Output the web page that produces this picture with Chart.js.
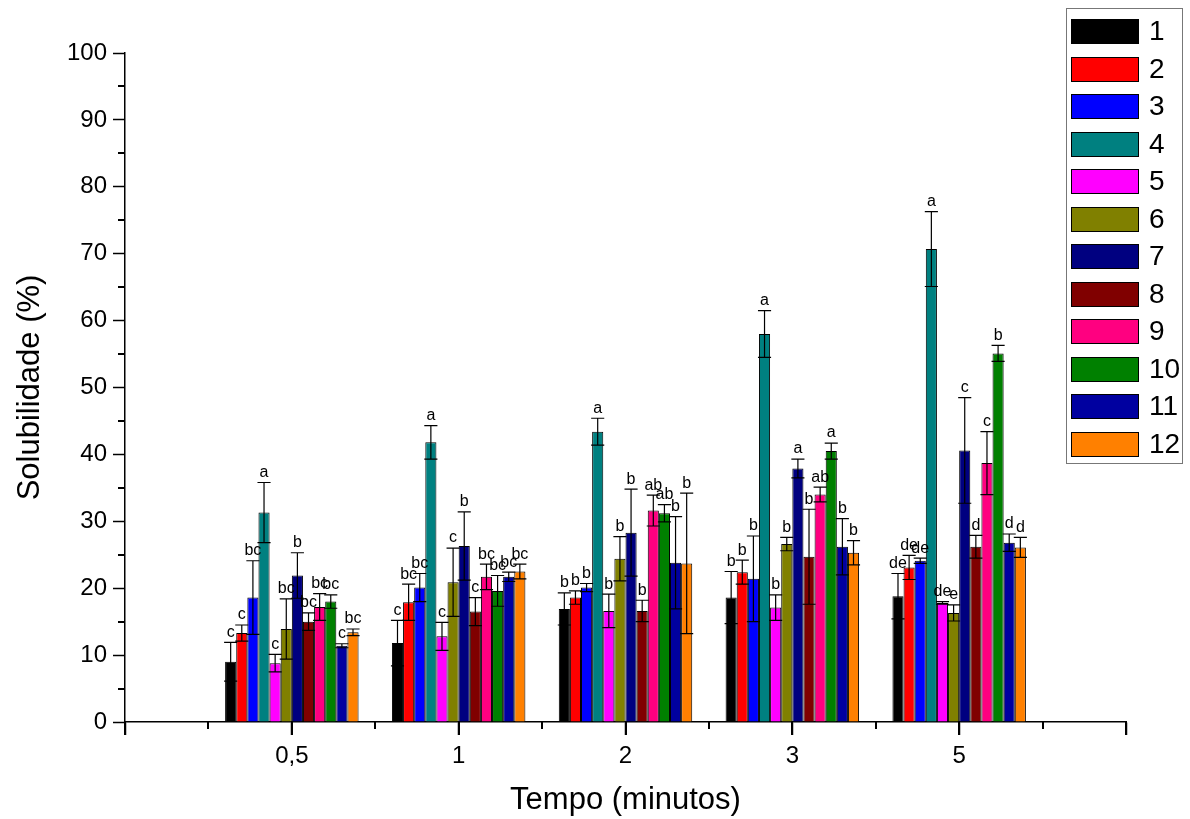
<!DOCTYPE html>
<html>
<head>
<meta charset="utf-8">
<script src="https://cdn.jsdelivr.net/npm/chart.js"></script>
<style>
  body { margin: 0; background: #fff; }
</style>
</head>
<body>
<canvas id="myChart" width="1190" height="819"></canvas>
<script>
// times (minutes)
const xValues = ["0,5", "1", "2", "3", "5"];
const seriesNames = ["1", "2", "3", "4", "5", "6", "7", "8", "9", "10", "11", "12"];
const barColors = ["#000000", "#ff0000", "#0000ff", "#008080", "#ff00ff", "#808000",
                   "#000080", "#800000", "#ff0080", "#008000", "#0000a0", "#ff8000"];

// solubility (%) per sample
const sol1 = [9.0, 11.8, 16.9, 18.6, 18.8];
const sol2 = [13.3, 17.9, 18.6, 22.4, 23.1];
const sol3 = [18.6, 20.1, 20.1, 21.4, 24.1];
const sol4 = [31.3, 41.8, 43.4, 58.0, 70.7];
const sol5 = [8.8, 12.8, 16.6, 17.1, 17.8];
const sol6 = [13.9, 20.9, 24.4, 26.6, 16.3];
const sol7 = [21.9, 26.3, 28.3, 37.9, 40.6];
const sol8 = [15.0, 16.5, 16.6, 24.7, 26.2];
const sol9 = [17.2, 21.7, 31.6, 34.0, 38.7];
const sol10 = [18.0, 19.6, 31.2, 40.5, 55.1];
const sol11 = [11.4, 21.7, 23.8, 26.2, 26.8];
const sol12 = [13.4, 22.5, 23.7, 25.3, 26.1];

// standard deviations
const err1 = [2.9, 3.4, 2.4, 3.9, 3.4];
const err2 = [1.2, 2.7, 1.0, 1.8, 1.8];
const err3 = [5.5, 2.1, 0.6, 6.4, 0.4];
const err4 = [4.5, 2.5, 2.0, 3.5, 5.6];
const err5 = [1.3, 2.1, 2.5, 1.9, 0.2];
const err6 = [4.5, 5.1, 3.3, 1.0, 1.2];
const err7 = [3.4, 5.1, 6.5, 1.4, 7.9];
const err8 = [1.3, 2.1, 1.6, 7.1, 1.7];
const err9 = [2.0, 1.9, 2.3, 1.1, 4.7];
const err10 = [1.0, 2.3, 1.3, 1.2, 1.2];
const err11 = [0.3, 0.7, 6.9, 4.2, 1.3];
const err12 = [0.5, 1.1, 10.5, 1.8, 1.5];

// significance letters
const let1 = ["c", "c", "b", "b", "de"];
const let2 = ["c", "bc", "b", "b", "de"];
const let3 = ["bc", "bc", "b", "b", "de"];
const let4 = ["a", "a", "a", "a", "a"];
const let5 = ["c", "c", "b", "b", "de"];
const let6 = ["bc", "c", "b", "b", "e"];
const let7 = ["b", "b", "b", "a", "c"];
const let8 = ["bc", "c", "b", "b", "d"];
const let9 = ["bc", "bc", "ab", "ab", "c"];
const let10 = ["bc", "bc", "ab", "a", "b"];
const let11 = ["c", "bc", "b", "b", "d"];
const let12 = ["bc", "bc", "b", "b", "d"];

const solValues = [sol1, sol2, sol3, sol4, sol5, sol6, sol7, sol8, sol9, sol10, sol11, sol12];
const errValues = [err1, err2, err3, err4, err5, err6, err7, err8, err9, err10, err11, err12];
const letters = [let1, let2, let3, let4, let5, let6, let7, let8, let9, let10, let11, let12];

const FONT = "'Liberation Sans', Arial, sans-serif";
// empty categories at both ends give the origin-style spacing
const pad = arr => [null, ...arr, null];

const datasets = seriesNames.map((name, i) => ({
    label: name,
    data: pad(solValues[i]),
    errors: pad(errValues[i]),
    letters: pad(letters[i]),
    backgroundColor: barColors[i],
    borderColor: "#000",
    borderWidth: 1
}));

const errorBars = {
    id: "errorBars",
    afterDatasetsDraw(chart) {
        const ctx = chart.ctx;
        const y = chart.scales.y;
        ctx.save();
        ctx.strokeStyle = "#000";
        ctx.fillStyle = "#000";
        ctx.lineWidth = 1.2;
        ctx.font = "16px " + FONT;
        ctx.textAlign = "center";
        ctx.textBaseline = "bottom";
        chart.data.datasets.forEach((ds, i) => {
            chart.getDatasetMeta(i).data.forEach((bar, j) => {
                const v = ds.data[j];
                if (v == null) return;
                const e = ds.errors[j];
                const top = y.getPixelForValue(v + e);
                const bot = y.getPixelForValue(v - e);
                const hw = bar.width / 2 + 1;
                ctx.beginPath();
                ctx.moveTo(bar.x, top); ctx.lineTo(bar.x, bot);
                ctx.moveTo(bar.x - hw, top); ctx.lineTo(bar.x + hw, top);
                ctx.moveTo(bar.x - hw, bot); ctx.lineTo(bar.x + hw, bot);
                ctx.stroke();
                ctx.fillText(ds.letters[j], bar.x, top - 2);
            });
        });
        ctx.restore();
    }
};

// origin-style axis ticks: major under each category, minor in between
const axisTicks = {
    id: "axisTicks",
    afterDraw(chart) {
        const { ctx, scales: { x, y } } = chart;
        const n = x.ticks.length;
        const px = [];
        for (let i = 0; i < n; i++) px.push(x.getPixelForTick(i));
        ctx.save();
        ctx.fillStyle = "#000";
        for (let v = 5; v < 100; v += 10) {
            const p = Math.round(y.getPixelForValue(v));
            ctx.fillRect(y.right - 7, p - 1, 7, 2);
        }
        px.forEach((p, i) => {
            ctx.fillRect(Math.round(p) - 1, x.top, 2, 13);
            if (i < n - 1) {
                const m = Math.round((p + px[i + 1]) / 2);
                ctx.fillRect(m - 1, x.top, 2, 7);
            }
        });
        ctx.restore();
    }
};

const boxLegend = {
    id: "boxLegend",
    afterDraw(chart) {
        const ctx = chart.ctx;
        ctx.save();
        ctx.lineWidth = 1;
        ctx.strokeStyle = "#777";
        ctx.strokeRect(1066.5, 8.5, 116, 455);
        ctx.font = "28px " + FONT;
        ctx.textBaseline = "middle";
        chart.data.datasets.forEach((ds, i) => {
            const cy = Math.round(31 + i * 37.5);
            ctx.fillStyle = ds.backgroundColor;
            ctx.fillRect(1071, cy - 12, 67, 24);
            ctx.strokeStyle = "#000";
            ctx.strokeRect(1071.5, cy - 11.5, 67, 24);
            ctx.fillStyle = "#000";
            ctx.fillText(ds.label, 1149, cy + 1);
        });
        ctx.restore();
    }
};

Chart.defaults.color = "#000";
Chart.defaults.font.family = FONT;

new Chart("myChart", {
    type: "bar",
    data: {
        labels: pad(xValues).map(l => l || ""),
        datasets: datasets
    },
    options: {
        responsive: false,
        animation: false,
        layout: { padding: { top: 53, right: 64, left: 0, bottom: 0 } },
        datasets: { bar: { categoryPercentage: 0.8, barPercentage: 1.0 } },
        plugins: {
            legend: { display: false },
            tooltip: { enabled: false }
        },
        scales: {
            x: {
                offset: false,
                grid: { offset: false, drawOnChartArea: false, tickLength: 13, tickColor: "#000", tickWidth: 1.5 },
                border: { color: "#000", width: 1.5 },
                ticks: { font: { size: 24 }, padding: 7, autoSkip: false, maxRotation: 0 },
                title: {
                    display: true,
                    text: "Tempo (minutos)",
                    font: { size: 31 },
                    padding: { top: 0, bottom: 0 }
                },
                afterFit(scale) { scale.height = 97; }
            },
            y: {
                min: 0,
                max: 100,
                grid: { drawOnChartArea: false, tickLength: 12, tickColor: "#000", tickWidth: 1.5 },
                border: { color: "#000", width: 1.5 },
                ticks: { stepSize: 10, font: { size: 24 }, padding: 6 },
                title: {
                    display: true,
                    text: "Solubilidade (%)",
                    font: { size: 31 },
                    padding: { top: 12, bottom: 0 }
                },
                afterFit(scale) { scale.width = 125; }
            }
        }
    },
    plugins: [errorBars, axisTicks, boxLegend]
});
</script>
</body>
</html>
